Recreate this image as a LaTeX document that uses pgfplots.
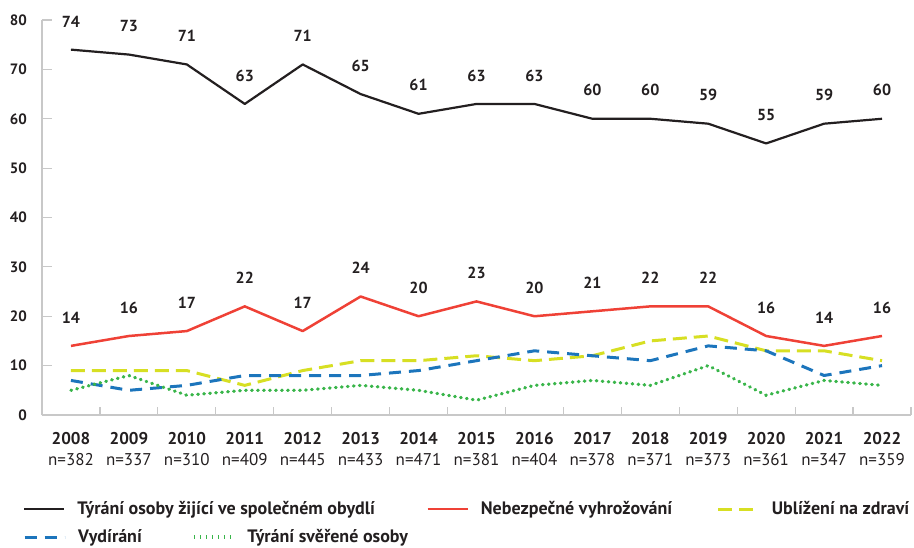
\documentclass[border=0pt]{standalone}
\usepackage{fontspec}
\setmainfont{PT Sans}
\usepackage{pgfplots}
\pgfplotsset{compat=1.18}
\definecolor{cBlack}{HTML}{231F20}
\definecolor{cRed}{HTML}{EF4136}
\definecolor{cYellow}{HTML}{D7DF23}
\definecolor{cBlue}{HTML}{1C75BC}
\definecolor{cGreen}{HTML}{39B54A}
\definecolor{cAxis}{HTML}{C8C8C8}
\newcommand{\lf}{\fontsize{18}{21}\selectfont\bfseries}
\pgfplotsset{
  common/.style={
    at={(0pt,0pt)}, anchor=south west,
    width=869pt, height=395pt, scale only axis,
    xmin=-0.5, xmax=14.5, ymin=0, ymax=80,
    clip=false,
    /pgf/number format/assume math mode=true,
    legend columns=3,
    legend cell align=left,
    legend image code/.code={\draw[line cap=butt,##1] (0pt,0pt) -- (40pt,0pt);},
    legend style={draw=none, fill=none, inner sep=0pt, column sep=0pt,
      nodes={inner sep=0pt, font=\lf, text=cBlack}},
  },
  lbl/.style={nodes near coords,
    nodes near coords style={font=\fontsize{16}{19}\selectfont\bfseries,
      text=cBlack, anchor=south, inner sep=0pt, yshift=21.5pt}},
}
\begin{document}
\begin{tikzpicture}
\begin{axis}[common,
  axis x line*=bottom, axis y line*=left,
  axis line style={draw=cAxis, line width=1.5pt},
  tick align=inside,
  ytick={0,10,...,80},
  xtick={0,...,14},
  xticklabels={{\textbf{2008}\\n=382},{\textbf{2009}\\n=337},{\textbf{2010}\\n=310},{\textbf{2011}\\n=409},{\textbf{2012}\\n=445},{\textbf{2013}\\n=433},{\textbf{2014}\\n=471},{\textbf{2015}\\n=381},{\textbf{2016}\\n=404},{\textbf{2017}\\n=378},{\textbf{2018}\\n=371},{\textbf{2019}\\n=373},{\textbf{2020}\\n=361},{\textbf{2021}\\n=347},{\textbf{2022}\\n=359}},
  minor xtick={-0.5,0.5,...,14.5},
  major tick length=10pt, minor tick length=8pt,
  major x tick style={draw=none},
  minor x tick style={draw=cAxis, line width=1.2pt},
  ytick style={draw=cAxis, line width=1.2pt},
  xticklabel style={align=center, anchor=north, inner sep=0pt, yshift=-17pt,
    font=\fontsize{17}{21}\selectfont, text=cBlack},
  yticklabel style={anchor=east, inner sep=0pt, xshift=-15pt,
    font=\fontsize{15}{18}\selectfont\bfseries, text=cBlack},
  legend style={at={(-0.02186,-0.238)}, anchor=west},
]
\addplot[cBlack, line width=2.2pt, line join=round, lbl] coordinates {
 (0,74) (1,73) (2,71) (3,63) (4,71) (5,65) (6,61) (7,63) (8,63) (9,60) (10,60) (11,59) (12,55) (13,59) (14,60)};
\addlegendentry{\hspace*{12pt}\makebox[349pt][l]{\lf Týrání osoby žijící ve společném obydlí}}
\addplot[cRed, line width=2.5pt, line join=round, lbl] coordinates {
 (0,14) (1,16) (2,17) (3,22) (4,17) (5,24) (6,20) (7,23) (8,20) (9,21) (10,22) (11,22) (12,16) (13,14) (14,16)};
\addlegendentry{\hspace*{12pt}\makebox[236pt][l]{\lf Nebezpečné vyhrožování}}
\addplot[cYellow, line width=3pt, line join=round, dash pattern=on 14pt off 7pt] coordinates {
 (0,9) (1,9) (2,9) (3,6) (4,9) (5,11) (6,11) (7,12) (8,11) (9,12) (10,15) (11,16) (12,13) (13,13) (14,11)};
\addlegendentry{\hspace*{12pt}{\lf Ublížení na zdraví}}
\end{axis}
\begin{axis}[common, hide axis,
  legend style={at={(-0.02186,-0.309)}, anchor=west},
]
\addplot[cBlue, line width=3pt, line join=round, dash pattern=on 12pt off 8pt] coordinates {
 (0,7) (1,5) (2,6) (3,8) (4,8) (5,8) (6,9) (7,11) (8,13) (9,12) (10,11) (11,14) (12,13) (13,8) (14,10)};
\addlegendentry{\hspace*{12pt}\makebox[114pt][l]{\lf Vydírání}}
\addplot[cGreen, line width=3.3pt, line cap=round, dash pattern=on 0.6pt off 5.4pt] coordinates {
 (0,5) (1,8) (2,4) (3,5) (4,5) (5,6) (6,5) (7,3) (8,6) (9,7) (10,6) (11,10) (12,4) (13,7) (14,6)};
\addlegendentry{\hspace*{12pt}{\lf Týrání svěřené osoby}}
\end{axis}
\pgfresetboundingbox
\path (-42pt,-132pt) rectangle (872pt,415pt);
\end{tikzpicture}
\end{document}
